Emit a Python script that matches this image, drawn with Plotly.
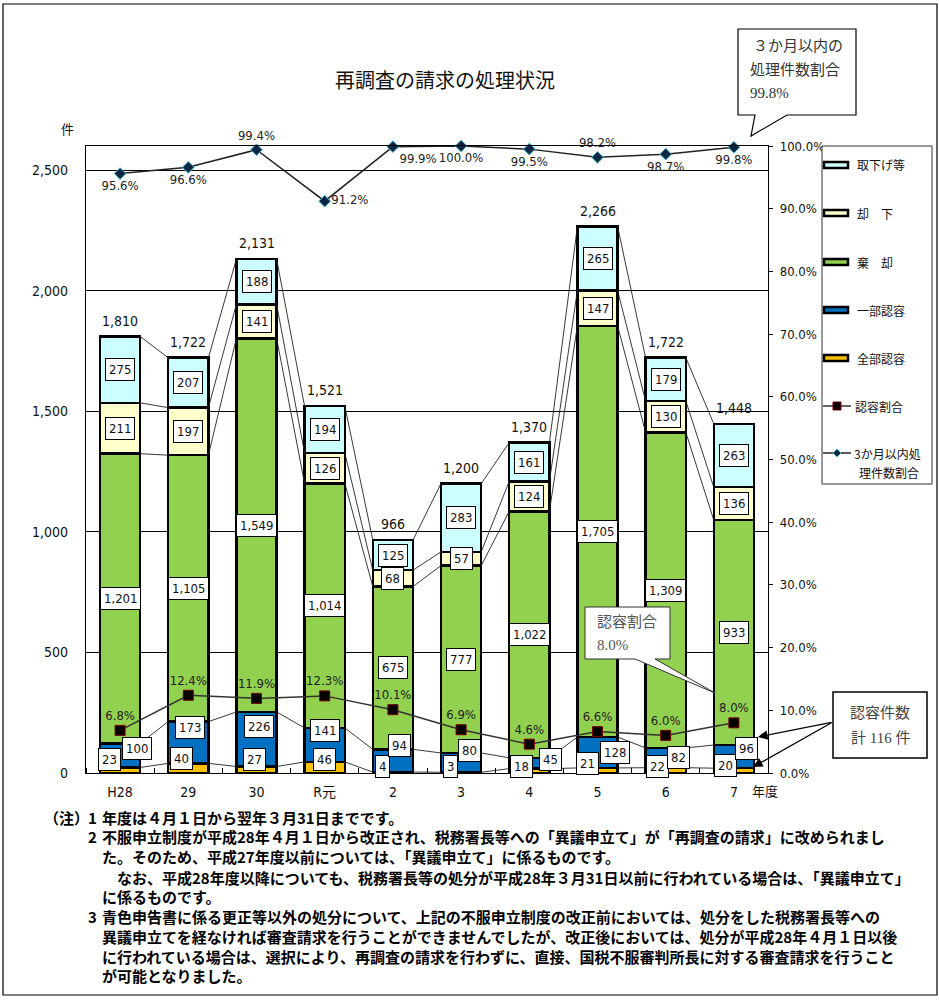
import plotly.graph_objects as go

# ---------------- data ----------------
years = ["H28", "29", "30", "R元", "2", "3", "4", "5", "6", "7"]
zenbu = [23, 40, 27, 46, 4, 3, 18, 21, 22, 20]            # 全部認容
ichibu = [100, 173, 226, 141, 94, 80, 45, 128, 82, 96]     # 一部認容
kikyaku = [1201, 1105, 1549, 1014, 675, 777, 1022, 1705, 1309, 933]  # 棄却
kyakka = [211, 197, 141, 126, 68, 57, 124, 147, 130, 136]  # 却下
torisage = [275, 207, 188, 194, 125, 283, 161, 265, 179, 263]  # 取下げ等
totals = [1810, 1722, 2131, 1521, 966, 1200, 1370, 2266, 1722, 1448]
nin_rate = [6.8, 12.4, 11.9, 12.3, 10.1, 6.9, 4.6, 6.6, 6.0, 8.0]      # 認容割合
q3_rate = [95.6, 96.6, 99.4, 91.2, 99.9, 100.0, 99.5, 98.2, 98.7, 99.8]  # 3か月以内処理件数割合

# label placement (layout only)
zenbu_lbl_dx = [-0.15, -0.10, -0.03, 0.0, -0.15, -0.16, -0.12, -0.15, -0.12, -0.12]
zenbu_lbl_y = [54, 62, 54, 58, 25, 25, 29, 41, 29, 33]
ichibu_lbl_dx = [0.25, 0.03, 0.04, 0.01, 0.10, 0.13, 0.31, 0.26, 0.19, 0.18]
ichibu_lbl_y = [100, 187, 191, 178, 116, 95, 54, 87, 66, 100]
q3_pos = ["bottom center", "bottom center", "top center", "middle right", "bottom right",
          "bottom center", "bottom center", "top center", "bottom center", "bottom center"]

# ---------------- geometry helpers (pixel -> paper) ----------------
PL, PR, PT, PB = 86, 768, 146, 773
W, H = PR - PL, PB - PT


def px(x):
    return (x - PL) / W


def py(y):
    return (PB - y) / H


def path(points):
    return "M " + " L ".join(f"{px(x):.5f},{py(y):.5f}" for x, y in points) + " Z"


NUM = "Liberation Sans Narrow, Arial Narrow, DejaVu Sans Condensed, Noto Sans CJK JP"
JP = "Noto Sans CJK JP, sans-serif"
SERIF = "Liberation Serif, Noto Sans CJK JP"

xs = list(range(len(years)))
BW = 0.59

fig = go.Figure()
series = [
    ("全部認容", zenbu, "#FFC000"),
    ("一部認容", ichibu, "#0070C0"),
    ("棄却", kikyaku, "#92D050"),
    ("却下", kyakka, "#FFFFCC"),
    ("取下げ等", torisage, "#CCFFFF"),
]
for name, vals, col in series:
    fig.add_trace(go.Bar(x=xs, y=vals, name=name, width=BW,
                         marker=dict(color=col, line=dict(color="black", width=2.5)),
                         showlegend=False, hoverinfo="skip"))

# series (connector) lines
cum = [0] * len(xs)
for name, vals, col in series:
    cum = [c + v for c, v in zip(cum, vals)]
    lx, ly = [], []
    for i in range(len(xs) - 1):
        lx += [xs[i] + BW / 2, xs[i + 1] - BW / 2, None]
        ly += [cum[i], cum[i + 1], None]
    fig.add_trace(go.Scatter(x=lx, y=ly, mode="lines", line=dict(color="#222", width=0.9),
                             showlegend=False, hoverinfo="skip"))

# ratio lines
fig.add_trace(go.Scatter(x=xs, y=nin_rate, yaxis="y2", mode="lines+markers+text",
                         line=dict(color="#333", width=1.5),
                         marker=dict(symbol="square", size=10, color="black",
                                     line=dict(color="#7a0000", width=1)),
                         text=[f"{v:.1f}%" for v in nin_rate], textposition="top center",
                         textfont=dict(family=NUM, size=13, color="#222"), cliponaxis=False,
                         showlegend=False, hoverinfo="skip"))
fig.add_trace(go.Scatter(x=xs, y=q3_rate, yaxis="y2", mode="lines+markers+text",
                         line=dict(color="#222", width=1.5),
                         marker=dict(symbol="diamond", size=9, color="#0b2545",
                                     line=dict(color="#3fb8c8", width=1)),
                         text=[f"{v:.1f}%" for v in q3_rate], textposition=q3_pos,
                         textfont=dict(family=NUM, size=13, color="#222"), cliponaxis=False,
                         showlegend=False, hoverinfo="skip"))

ann = []


def box(x, y, t):
    ann.append(dict(x=x, y=y, xref="x", yref="y", text=t, showarrow=False,
                    xanchor="center", yanchor="middle",
                    bgcolor="white", bordercolor="black", borderwidth=1, borderpad=3,
                    font=dict(family=NUM, size=13, color="#111")))


def ptext(x, y, t, font, xanchor="left"):
    ann.append(dict(x=px(x), y=py(y), xref="paper", yref="paper", text=t, showarrow=False,
                    xanchor=xanchor, yanchor="middle", font=font))


for i in xs:
    box(xs[i] + zenbu_lbl_dx[i], zenbu_lbl_y[i], f"{zenbu[i]:,}")
    box(xs[i] + ichibu_lbl_dx[i], ichibu_lbl_y[i], f"{ichibu[i]:,}")
    b = zenbu[i] + ichibu[i]
    box(xs[i], b + kikyaku[i] / 2, f"{kikyaku[i]:,}")
    b += kikyaku[i]
    box(xs[i], b + kyakka[i] / 2, f"{kyakka[i]:,}")
    b += kyakka[i]
    box(xs[i], b + torisage[i] / 2, f"{torisage[i]:,}")
    ann.append(dict(x=xs[i], y=totals[i], xref="x", yref="y", text=f"{totals[i]:,}",
                    showarrow=False, xanchor="center", yanchor="bottom", yshift=6,
                    font=dict(family=NUM, size=14, color="#111")))

# title and axis captions
ptext(445, 79, "再調査の請求の処理状況", dict(family=JP, size=20, color="#111"), "center")
ptext(67, 128, "件", dict(family=JP, size=13, color="#111"), "center")
ptext(765, 790, "年度", dict(family=JP, size=13, color="#111"), "center")

shapes = []
# outer frame
shapes.append(dict(type="rect", xref="paper", yref="paper", x0=px(3), x1=px(937),
                   y0=py(995), y1=py(4), line=dict(color="black", width=1.2)))

# legend box
shapes.append(dict(type="rect", xref="paper", yref="paper", x0=px(822), x1=px(932),
                   y0=py(484), y1=py(146), line=dict(color="#333", width=1), fillcolor="white"))
leg_items = [("取下げ等", "#CCFFFF", 165), ("却　下", "#FFFFCC", 213), ("棄　却", "#92D050", 262),
             ("一部認容", "#0070C0", 310), ("全部認容", "#FFC000", 358)]
LEGF = dict(family=JP, size=12, color="#111")
for t, c, yy in leg_items:
    shapes.append(dict(type="rect", xref="paper", yref="paper", x0=px(824), x1=px(848),
                       y0=py(yy + 3), y1=py(yy - 3), fillcolor=c, line=dict(color="black", width=2.5)))
    ptext(855, yy, t, LEGF)
# line legend items
shapes.append(dict(type="line", xref="paper", yref="paper", x0=px(823), x1=px(851),
                   y0=py(406), y1=py(406), line=dict(color="#333", width=1.5)))
shapes.append(dict(type="rect", xref="paper", yref="paper", x0=px(833), x1=px(841),
                   y0=py(410), y1=py(402), fillcolor="black", line=dict(color="#7a0000", width=1)))
ptext(853, 406, "認容割合", LEGF)
shapes.append(dict(type="line", xref="paper", yref="paper", x0=px(823), x1=px(851),
                   y0=py(453), y1=py(453), line=dict(color="#222", width=1.5)))
shapes.append(dict(type="path", xref="paper", yref="paper",
                   path=path([(837, 449), (841, 453), (837, 457), (833, 453)]),
                   fillcolor="#0b2545", line=dict(color="#3fb8c8", width=1)))
ptext(852, 453, "3か月以内処", LEGF)
ptext(857, 472, "理件数割合", LEGF)

# callout: 3か月以内の処理件数割合
shapes.append(dict(type="path", xref="paper", yref="paper",
                   path=path([(738, 29), (856, 29), (856, 115), (787, 115), (751, 136), (755, 115), (738, 115)]),
                   fillcolor="white", line=dict(color="black", width=1.2)))
CALF = dict(family=SERIF, size=15, color="#333")
for t, yy, xx in [("３か月以内の", 46, 751), ("処理件数割合", 70, 748), ("99.8%", 93, 748)]:
    ptext(xx, yy, t, CALF)

# callout: 認容割合 8.0%
shapes.append(dict(type="path", xref="paper", yref="paper",
                   path=path([(585, 607), (670, 607), (670, 659), (655, 659), (715, 693), (635, 659), (585, 659)]),
                   fillcolor="white", line=dict(color="#333", width=1)))
for t, yy in [("認容割合", 622), ("8.0%", 645)]:
    ptext(595, yy, t, dict(family=SERIF, size=15, color="#555"))

# callout: 認容件数 計116件
shapes.append(dict(type="rect", xref="paper", yref="paper", x0=px(833), x1=px(927),
                   y0=py(758), y1=py(692), fillcolor="white", line=dict(color="black", width=1.5)))
for t, yy in [("認容件数", 713), ("計 116 件", 738)]:
    ptext(880, yy, t, dict(family=SERIF, size=15, color="#444"), "center")
for tx, ty in [(758, 737), (753, 767)]:
    ann.append(dict(x=px(tx), y=py(ty), xref="paper", yref="paper", text="", showarrow=True,
                    ax=833 - tx, ay=722 - ty, arrowhead=2, arrowsize=1.6, arrowwidth=1.2,
                    arrowcolor="black"))

# notes
NOTE_FONT = dict(family=JP, size=15, color="#000", weight=600)
notes = [
    (42, 817, "（注）"), (86, 817, "1"), (100, 817, "年度は４月１日から翌年３月31日までです。"),
    (86, 836, "2"),
    (100, 836, "不服申立制度が平成28年４月１日から改正され、税務署長等への「異議申立て」が「再調査の請求」に改められまし"),
    (100, 856, "た。そのため、平成27年度以前については、「異議申立て」に係るものです。"),
    (115, 877, "なお、平成28年度以降についても、税務署長等の処分が平成28年３月31日以前に行われている場合は、「異議申立て」"),
    (100, 896, "に係るものです。"),
    (86, 916, "3"),
    (100, 916, "青色申告書に係る更正等以外の処分について、上記の不服申立制度の改正前においては、処分をした税務署長等への"),
    (100, 936, "異議申立てを経なければ審査請求を行うことができませんでしたが、改正後においては、処分が平成28年４月１日以後"),
    (100, 956, "に行われている場合は、選択により、再調査の請求を行わずに、直接、国税不服審判所長に対する審査請求を行うこと"),
    (100, 976, "が可能となりました。"),
]
for xx, yy, t in notes:
    ptext(xx, yy, t, NOTE_FONT)

fig.update_layout(
    width=939, height=1000,
    margin=dict(l=PL, r=939 - PR, t=PT, b=1000 - PB, pad=0),
    paper_bgcolor="white", plot_bgcolor="white",
    barmode="stack", bargap=0.41,
    showlegend=False,
    xaxis=dict(range=[-0.5, 9.5], tickvals=xs, ticktext=years, ticks="",
               showline=True, linecolor="black", linewidth=1.2, mirror=True,
               showgrid=False, zeroline=False,
               tickfont=dict(family=NUM, size=14, color="#111"),
               ticklabelstandoff=6,
               minor=dict(tick0=-0.5, dtick=1, ticks="inside", ticklen=5, tickcolor="black")),
    yaxis=dict(range=[0, 2600], tickvals=[0, 500, 1000, 1500, 2000, 2500],
               ticktext=["0", "500", "1,000", "1,500", "2,000", "2,500"],
               showgrid=True, gridcolor="black", gridwidth=1, zeroline=False,
               showline=True, linecolor="black", linewidth=1.2,
               ticks="", tickfont=dict(family=NUM, size=14, color="#111"),
               ticklabelstandoff=14),
    yaxis2=dict(range=[0, 100], overlaying="y", side="right", dtick=10,
                tickformat=".1f", ticksuffix="%", showgrid=False, zeroline=False,
                showline=True, linecolor="black", linewidth=1.2,
                ticks="outside", ticklen=4, tickcolor="black",
                tickfont=dict(family=NUM, size=13, color="#111"), ticklabelstandoff=4),
    annotations=ann,
    shapes=shapes,
)

fig.write_html("out.html")
